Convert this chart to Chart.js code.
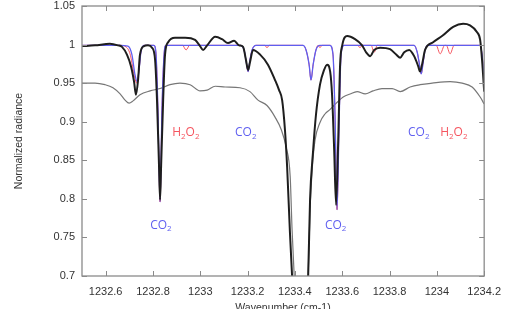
<!DOCTYPE html>
<html>
<head>
<meta charset="utf-8">
<script src="https://cdn.jsdelivr.net/npm/chart.js@4.4.1/dist/chart.umd.min.js"></script>
<style>
html, body { margin: 0; padding: 0; background: #fff; }
</style>
</head>
<body>
<canvas id="grafik" width="510" height="309"></canvas>
<script>
// ticks
const xTicks = [1232.6, 1232.8, 1233, 1233.2, 1233.4, 1233.6, 1233.8, 1234, 1234.2];
const yTicks = [0.7, 0.75, 0.8, 0.85, 0.9, 0.95, 1, 1.05];

// measured spectrum (thick black)
const measured = [
    [1232.500, 0.998], [1232.555, 0.999], [1232.618, 1.001], [1232.652, 0.999],
    [1232.669, 0.997], [1232.690, 0.987], [1232.707, 0.972], [1232.720, 0.952],
    [1232.728, 0.935], [1232.737, 0.954], [1232.745, 0.987], [1232.762, 0.998],
    [1232.779, 0.999], [1232.796, 0.996], [1232.809, 0.980], [1232.817, 0.928],
    [1232.826, 0.838], [1232.830, 0.799], [1232.834, 0.838], [1232.843, 0.928],
    [1232.851, 0.987], [1232.864, 1.003], [1232.893, 1.009], [1232.936, 1.009],
    [1232.978, 1.006], [1232.999, 0.998], [1233.012, 0.993], [1233.029, 0.999],
    [1233.063, 1.010], [1233.092, 1.007], [1233.117, 1.002], [1233.143, 1.005],
    [1233.164, 0.999], [1233.181, 0.997], [1233.193, 0.980], [1233.202, 0.967],
    [1233.210, 0.977], [1233.223, 0.993], [1233.253, 0.987], [1233.286, 0.974],
    [1233.316, 0.954], [1233.333, 0.941], [1233.346, 0.928], [1233.358, 0.889],
    [1233.367, 0.842], [1233.379, 0.756], [1233.388, 0.700], [1233.420, 0.550],
    [1233.456, 0.700], [1233.464, 0.799], [1233.477, 0.863], [1233.489, 0.909],
    [1233.506, 0.948], [1233.523, 0.967], [1233.536, 0.974], [1233.549, 0.965],
    [1233.557, 0.935], [1233.566, 0.863], [1233.574, 0.792], [1233.583, 0.876],
    [1233.591, 0.974], [1233.600, 0.999], [1233.621, 1.011], [1233.654, 1.007],
    [1233.684, 0.999], [1233.701, 0.990], [1233.718, 0.985], [1233.735, 0.993],
    [1233.760, 0.996], [1233.802, 0.994], [1233.828, 0.987], [1233.845, 0.983],
    [1233.862, 0.990], [1233.883, 0.993], [1233.904, 0.985], [1233.921, 0.972],
    [1233.929, 0.965], [1233.938, 0.975], [1233.950, 0.993], [1233.984, 1.003],
    [1234.026, 1.012], [1234.069, 1.023], [1234.111, 1.027], [1234.140, 1.025],
    [1234.170, 1.016], [1234.183, 1.006], [1234.191, 0.980], [1234.200, 0.939]
];

// CO2 model (blue)
const co2Model = [
    [1232.500, 0.999], [1232.661, 0.999], [1232.694, 0.998], [1232.711, 0.987],
    [1232.724, 0.961], [1232.733, 0.952], [1232.741, 0.967], [1232.749, 0.990],
    [1232.762, 0.999], [1232.804, 0.999], [1232.813, 0.987], [1232.821, 0.915],
    [1232.830, 0.796], [1232.838, 0.915], [1232.847, 0.987], [1232.855, 0.999],
    [1233.168, 0.999], [1233.185, 0.993], [1233.193, 0.980], [1233.202, 0.965],
    [1233.210, 0.980], [1233.219, 0.993], [1233.236, 0.999], [1233.434, 0.999],
    [1233.447, 0.993], [1233.460, 0.974], [1233.468, 0.954], [1233.477, 0.974],
    [1233.489, 0.993], [1233.506, 0.999], [1233.548, 0.999], [1233.561, 0.987],
    [1233.570, 0.902], [1233.578, 0.786], [1233.587, 0.902], [1233.595, 0.987],
    [1233.608, 0.999], [1233.904, 0.999], [1233.917, 0.990], [1233.925, 0.977],
    [1233.934, 0.962], [1233.942, 0.977], [1233.950, 0.993], [1233.963, 0.999],
    [1234.183, 0.999], [1234.191, 0.987], [1234.200, 0.954]
];

// H2O2 model (red)
const h2o2Model = [
    [1232.500, 0.999], [1232.661, 0.999], [1232.686, 0.997], [1232.703, 0.988],
    [1232.720, 0.962], [1232.731, 0.950], [1232.741, 0.967], [1232.749, 0.990],
    [1232.762, 0.999], [1232.804, 0.999], [1232.813, 0.987], [1232.821, 0.915],
    [1232.830, 0.796], [1232.838, 0.915], [1232.847, 0.987], [1232.855, 0.999],
    [1232.925, 0.999], [1232.940, 0.993], [1232.955, 0.999], [1233.168, 0.999],
    [1233.185, 0.993], [1233.193, 0.980], [1233.202, 0.965], [1233.210, 0.980],
    [1233.219, 0.993], [1233.236, 0.999], [1233.272, 0.999], [1233.282, 0.996],
    [1233.292, 0.999], [1233.434, 0.999], [1233.447, 0.993], [1233.460, 0.974],
    [1233.468, 0.954], [1233.477, 0.974], [1233.489, 0.993], [1233.498, 0.999],
    [1233.506, 0.996], [1233.514, 0.999], [1233.548, 0.999], [1233.561, 0.987],
    [1233.570, 0.902], [1233.578, 0.786], [1233.587, 0.902], [1233.595, 0.987],
    [1233.608, 0.999], [1233.665, 0.999], [1233.675, 0.996], [1233.685, 0.999],
    [1233.722, 0.999], [1233.735, 0.990], [1233.748, 0.999], [1233.904, 0.999],
    [1233.917, 0.990], [1233.925, 0.977], [1233.934, 0.962], [1233.942, 0.977],
    [1233.950, 0.993], [1233.963, 0.999], [1233.997, 0.999], [1234.014, 0.988],
    [1234.033, 0.999], [1234.040, 0.999], [1234.056, 0.988], [1234.073, 0.999],
    [1234.183, 0.999], [1234.191, 0.987], [1234.200, 0.954]
];

// reference spectrum (thin gray)
const reference = [
    [1232.500, 0.950], [1232.555, 0.950], [1232.597, 0.948], [1232.631, 0.944],
    [1232.661, 0.936], [1232.682, 0.928], [1232.699, 0.924], [1232.716, 0.927],
    [1232.745, 0.935], [1232.788, 0.940], [1232.830, 0.943], [1232.872, 0.948],
    [1232.914, 0.950], [1232.957, 0.948], [1232.999, 0.940], [1233.029, 0.941],
    [1233.063, 0.946], [1233.105, 0.945], [1233.168, 0.944], [1233.210, 0.939],
    [1233.244, 0.928], [1233.282, 0.921], [1233.316, 0.906], [1233.342, 0.890],
    [1233.363, 0.867], [1233.380, 0.829], [1233.388, 0.760], [1233.397, 0.700],
    [1233.425, 0.560], [1233.456, 0.700], [1233.464, 0.786], [1233.473, 0.838],
    [1233.485, 0.876], [1233.506, 0.899], [1233.527, 0.910], [1233.549, 0.916],
    [1233.578, 0.925], [1233.604, 0.932], [1233.633, 0.936], [1233.663, 0.939],
    [1233.697, 0.936], [1233.730, 0.940], [1233.768, 0.943], [1233.811, 0.943],
    [1233.845, 0.939], [1233.887, 0.945], [1233.929, 0.948], [1233.980, 0.950],
    [1234.056, 0.952], [1234.107, 0.950], [1234.149, 0.945], [1234.183, 0.932],
    [1234.200, 0.923]
];

// species labels
const etiketler = [
    { text: 'H2O2', x: 1232.881, y: 0.886 },
    { text: 'CO2', x: 1233.147, y: 0.886 },
    { text: 'CO2', x: 1232.788, y: 0.766 },
    { text: 'CO2', x: 1233.527, y: 0.766 },
    { text: 'CO2', x: 1233.878, y: 0.886 },
    { text: 'H2O2', x: 1234.014, y: 0.886 }
];

const mavi = 'rgb(95, 95, 240)';
const kirmizi = 'rgb(245, 85, 95)';
const cerceve = '#8a8a8a';

function noktalar(seri) {
    return seri.map(p => ({ x: p[0], y: p[1] }));
}

function kimyaYaz(ctx, metin, x, y, renk) {
    ctx.fillStyle = renk;
    ctx.textBaseline = 'middle';
    ctx.textAlign = 'left';
    let px = x;
    for (const ch of metin) {
        if (/[0-9]/.test(ch)) {
            ctx.font = '8px "Open Sans"';
            ctx.fillText(ch, px, y + 4);
        } else {
            ctx.font = '12px "Open Sans"';
            ctx.fillText(ch, px, y);
        }
        px += ctx.measureText(ch).width;
    }
}

const cercevePlugin = {
    id: 'cerceve',
    afterDatasetsDraw(chart) {
        const ctx = chart.ctx;
        const a = chart.chartArea;
        const sx = chart.scales.x, sy = chart.scales.y;
        ctx.save();
        // labels
        etiketler.forEach(e => {
            const renk = e.text.startsWith('H') ? kirmizi : mavi;
            kimyaYaz(ctx, e.text, sx.getPixelForValue(e.x), sy.getPixelForValue(e.y), renk);
        });
        // frame + inward ticks on all sides
        ctx.strokeStyle = cerceve;
        ctx.lineWidth = 1.3;
        ctx.strokeRect(a.left, a.top, a.right - a.left, a.bottom - a.top);
        ctx.lineWidth = 1;
        ctx.beginPath();
        xTicks.forEach(v => {
            const px = Math.round(sx.getPixelForValue(v)) + 0.5;
            ctx.moveTo(px, a.bottom); ctx.lineTo(px, a.bottom - 5);
            ctx.moveTo(px, a.top); ctx.lineTo(px, a.top + 5);
        });
        yTicks.forEach(v => {
            const py = Math.round(sy.getPixelForValue(v)) + 0.5;
            ctx.moveTo(a.left, py); ctx.lineTo(a.left + 5, py);
            ctx.moveTo(a.right, py); ctx.lineTo(a.right - 5, py);
        });
        ctx.stroke();
        // axis titles
        ctx.fillStyle = '#333';
        ctx.font = '10.5px "Liberation Sans"';
        ctx.textAlign = 'center';
        ctx.textBaseline = 'alphabetic';
        ctx.fillText('Wavenumber (cm-1)', 283, 311);
        ctx.translate(19, 141);
        ctx.rotate(-Math.PI / 2);
        ctx.textBaseline = 'middle';
        ctx.fillText('Normalized radiance', 0, 0);
        ctx.restore();
    }
};

function seri(etiket, veri, renk, kalinlik, sira) {
    return {
        label: etiket,
        data: noktalar(veri),
        showLine: true,
        borderColor: renk,
        borderWidth: kalinlik,
        pointRadius: 0,
        cubicInterpolationMode: 'monotone',
        order: sira
    };
}

const config = {
    type: 'scatter',
    data: {
        datasets: [
            seri('Measured', measured, '#1e1e1e', 2, 0),
            seri('CO2', co2Model, mavi, 1.3, 1),
            seri('H2O2', h2o2Model, kirmizi, 1, 2),
            seri('Reference', reference, '#777', 1.2, 3)
        ]
    },
    options: {
        responsive: false,
        animation: false,
        layout: { padding: { left: 0, right: 25, top: 0, bottom: 0 } },
        plugins: {
            legend: { display: false },
            tooltip: { enabled: false }
        },
        scales: {
            x: {
                type: 'linear',
                min: 1232.5,
                max: 1234.2,
                afterBuildTicks: s => { s.ticks = xTicks.map(v => ({ value: v })); },
                afterFit: s => { s.height = 33; },
                grid: { display: false, drawTicks: false },
                border: { display: false },
                ticks: {
                    padding: 9,
                    color: '#333',
                    font: { family: 'Liberation Sans', size: 11 },
                    maxRotation: 0,
                    autoSkip: false,
                    callback: v => String(+v.toFixed(2))
                }
            },
            y: {
                type: 'linear',
                min: 0.7,
                max: 1.05,
                afterBuildTicks: s => { s.ticks = yTicks.map(v => ({ value: v })); },
                afterFit: s => { s.width = 82; s.paddingTop = 6; s.paddingBottom = 0; },
                grid: { display: false, drawTicks: false },
                border: { display: false },
                ticks: {
                    padding: 7,
                    color: '#333',
                    font: { family: 'Liberation Sans', size: 11 },
                    autoSkip: false,
                    callback: v => String(+v.toFixed(2))
                }
            }
        }
    },
    plugins: [cercevePlugin]
};

new Chart(document.getElementById('grafik'), config);
</script>
</body>
</html>
